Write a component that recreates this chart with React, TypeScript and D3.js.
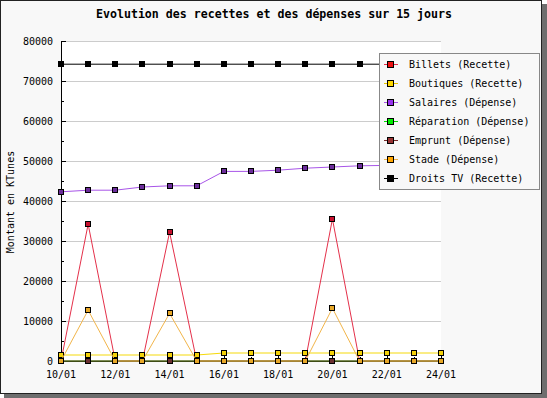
import { useEffect } from "react";
import * as d3 from "d3";

// --- Données (KTunes)
const days = ["10/01", "11/01", "12/01", "13/01", "14/01", "15/01", "16/01", "17/01", "18/01", "19/01", "20/01", "21/01", "22/01", "23/01", "24/01"];
const billets = [0, 34200, 0, 0, 32200, 0, 0, 0, 0, 0, 35500, 0, 0, 0, 0];
const boutiques = [1500, 1500, 1500, 1500, 1500, 1500, 2000, 2000, 2000, 2000, 2000, 2000, 2000, 2000, 2000];
const salaires = [42300, 42700, 42700, 43500, 43800, 43800, 47400, 47400, 47700, 48200, 48500, 48800, 48900, 49000, 49100];
const reparation = [0, 0, 0, 0, 0, 0, 0, 0, 0, 0, 0, 0, 0, 0, 0];
const emprunt = [0, 0, 0, 0, 0, 0, 0, 0, 0, 0, 0, 0, 0, 0, 0];
const stade = [0, 12700, 0, 0, 11900, 0, 0, 0, 0, 0, 13200, 0, 0, 0, 0];
const droitsTV = [74200, 74200, 74200, 74200, 74200, 74200, 74200, 74200, 74200, 74200, 74200, 74200, 74200, 74200, 74200];
const yTicks = [0, 10000, 20000, 30000, 40000, 50000, 60000, 70000, 80000];

const series = [
  { name: "Billets (Recette)", values: billets, line: "#e4304a", mark: "#c8102e", legend: "#ee1111" },
  { name: "Boutiques (Recette)", values: boutiques, line: "#f5d90a", mark: "#f5d20a", legend: "#ffd700" },
  { name: "Salaires (Dépense)", values: salaires, line: "#a855e8", mark: "#6b2d9a", legend: "#9933ee" },
  { name: "Réparation (Dépense)", values: reparation, line: "#00dd00", mark: "#00ee00", legend: "#00ee00" },
  { name: "Emprunt (Dépense)", values: emprunt, line: "#7a2a2a", mark: "#6b3030", legend: "#993333" },
  { name: "Stade (Dépense)", values: stade, line: "#f2b54a", mark: "#e8a828", legend: "#ffa500" },
  { name: "Droits TV (Recette)", values: droitsTV, line: "#000000", mark: "#000000", legend: "#000000" },
];

const W = 547;
const H = 398;
const mono = "'DejaVu Sans Mono', monospace";

export default function App() {
  useEffect(() => {
    document.body.style.margin = "0";
  }, []);

  const x = d3.scalePoint<string>().domain(days).range([61, 441]);
  const y = d3.scaleLinear().domain([0, 80000]).range([361, 41]);
  const line = d3
    .line<number>()
    .x((_, i) => x(days[i]) as number)
    .y((d) => y(d));

  const minorY = d3.range(5000, 80000, 10000);

  return (
    <svg width={W} height={H} style={{ position: "absolute", left: 0, top: 0 }}>
      {/* cadre + ombre */}
      <rect x={4} y={4} width={W - 4} height={H - 4} fill="#6e6e6e" />
      <rect x={0.5} y={0.5} width={541} height={393} fill="#f8f8f8" stroke="#222" />
      <rect x={61} y={41} width={380} height={320} fill="#ffffff" />

      <text x={274} y={18} textAnchor="middle" fontFamily={mono} fontWeight="bold" fontSize={11.6}>
        Evolution des recettes et des dépenses sur 15 jours
      </text>

      {/* grille */}
      {yTicks.slice(1).map((t) => (
        <line key={t} x1={61} x2={441} y1={y(t) + 0.5} y2={y(t) + 0.5} stroke="#cccccc" />
      ))}

      {/* axes */}
      <line x1={61.5} x2={61.5} y1={41} y2={361} stroke="#000" />
      <line x1={61} x2={441} y1={361.5} y2={361.5} stroke="#000" />
      {yTicks.map((t) => (
        <g key={t}>
          <line x1={61} x2={66} y1={y(t) + 0.5} y2={y(t) + 0.5} stroke="#000" />
          <text x={53} y={y(t) + 4} textAnchor="end" fontFamily={mono} fontSize={10}>
            {t}
          </text>
        </g>
      ))}
      {minorY.map((t) => (
        <line key={t} x1={61} x2={64} y1={y(t) + 0.5} y2={y(t) + 0.5} stroke="#000" />
      ))}
      {days.map((d, i) => (
        <g key={d}>
          <line
            x1={Math.round(x(d) as number) + 0.5}
            x2={Math.round(x(d) as number) + 0.5}
            y1={361}
            y2={i % 2 === 0 ? 354 : 357}
            stroke="#000"
          />
          {i % 2 === 0 && (
            <text x={x(d)} y={378} textAnchor="middle" fontFamily={mono} fontSize={10}>
              {d}
            </text>
          )}
        </g>
      ))}

      <text transform="translate(14,202) rotate(-90)" textAnchor="middle" fontFamily={mono} fontSize={10}>
        Montant en KTunes
      </text>

      {/* séries */}
      {series.map((s) => (
        <g key={s.name}>
          <path d={line(s.values) ?? ""} fill="none" stroke={s.line} strokeWidth={1} />
          {s.values.map((v, i) => (
            <rect
              key={i}
              x={Math.round(x(days[i]) as number) - 2.5}
              y={Math.round(y(v)) - 2.5}
              width={5}
              height={5}
              fill={s.mark}
              stroke="#000"
            />
          ))}
        </g>
      ))}

      {/* légende */}
      <rect x={379.5} y={53.5} width={160} height={136} fill="#f8f8f8" stroke="#888" />
      {series.map((s, i) => {
        const ly = 64 + i * 19;
        return (
          <g key={s.name}>
            <line x1={384} x2={398} y1={ly + 0.5} y2={ly + 0.5} stroke={s.line === "#f5d90a" ? "#e8c800" : s.line} />
            <rect x={387.5} y={ly - 2.5} width={6} height={6} fill={s.legend} stroke="#000" />
            <text x={409} y={ly + 4} fontFamily={mono} fontSize={10}>
              {s.name}
            </text>
          </g>
        );
      })}
    </svg>
  );
}
